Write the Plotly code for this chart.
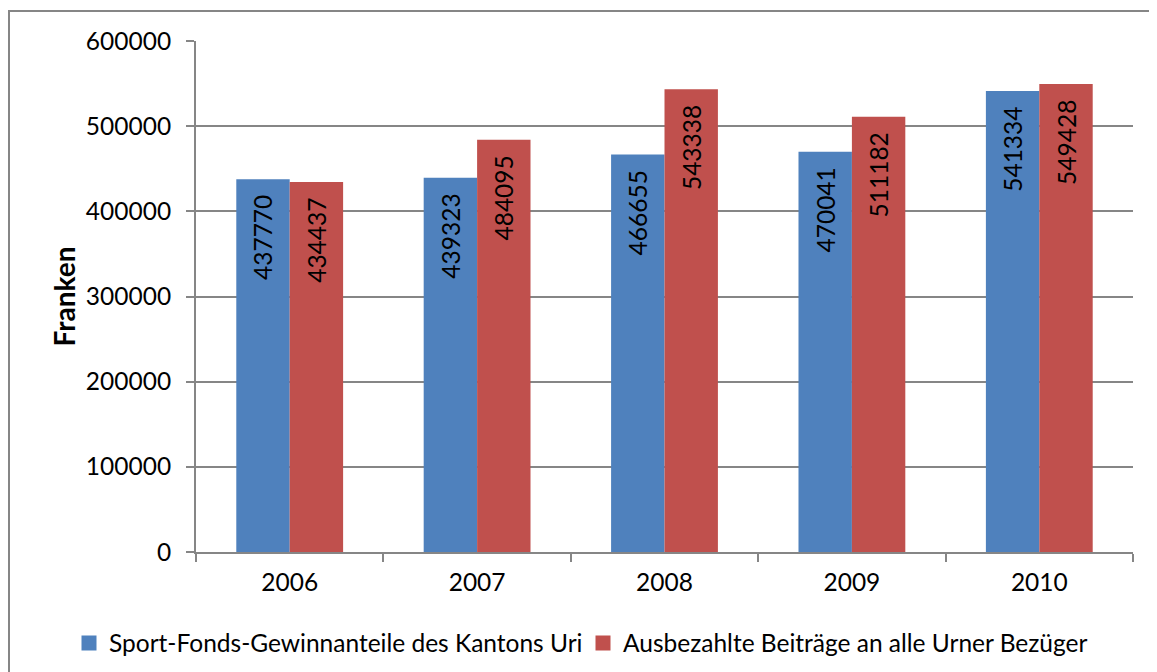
import plotly.graph_objects as go

years = ["2006", "2007", "2008", "2009", "2010"]
sport_fonds = [437770, 439323, 466655, 470041, 541334]
ausbezahlt = [434437, 484095, 543338, 511182, 549428]
y_ticks = [0, 100000, 200000, 300000, 400000, 500000, 600000]
series_names = ["Sport-Fonds-Gewinnanteile des Kantons Uri",
                "Ausbezahlte Beiträge an alle Urner Bezüger"]
series_colors = ["#4F81BD", "#C0504D"]

FONT = "Lato"
FS = 24.5
L, R, T, B = 188, 32, 33, 128
PW = 1157 - L - R
PH = 672 - T - B

fig = go.Figure()
for name, vals, color in zip(series_names, [sport_fonds, ausbezahlt], series_colors):
    fig.add_trace(go.Bar(
        x=years, y=vals, name=name, showlegend=False, legendgroup=name,
        marker=dict(color=color, line=dict(width=0)),
        texttemplate="%{y:d}\u00a0\u00a0", textposition="inside", textangle=-90,
        insidetextanchor="end", textfont=dict(color="black", size=FS, family=FONT),
    ))
for name, color in zip(series_names, series_colors):
    fig.add_trace(go.Scatter(
        x=[None], y=[None], mode="markers", name=name, legendgroup=name,
        marker=dict(symbol="square", size=15, color=color), showlegend=True,
    ))

fig.update_layout(
    width=1157, height=672,
    margin=dict(l=L, r=R, t=T, b=B, autoexpand=False),
    paper_bgcolor="white", plot_bgcolor="white",
    barmode="group", bargap=0.43, bargroupgap=0,
    font=dict(family=FONT, size=FS, color="black"),
    showlegend=True,
    legend=dict(orientation="h", x=(61 - L) / PW, xanchor="left",
                y=(PH + T - 635) / PH, yanchor="middle",
                font=dict(size=FS, family=FONT), traceorder="normal",
                entrywidth=469, entrywidthmode="pixels"),
    uniformtext=dict(minsize=FS, mode="show"),
)
fig.update_xaxes(
    type="category", showline=True, linecolor="#868686", linewidth=2,
    ticks="outside", tickson="boundaries", ticklen=8, tickcolor="#868686", tickwidth=2,
    showgrid=False, tickfont=dict(size=FS, family=FONT), ticklabelstandoff=8,
)
fig.update_yaxes(
    range=[0, 600000], tickvals=y_ticks, ticktext=[str(v) for v in y_ticks],
    showline=True, linecolor="#868686", linewidth=2,
    ticks="outside", ticklen=8, tickcolor="#868686", tickwidth=2,
    showgrid=True, gridcolor="#868686", gridwidth=1.5,
    zeroline=False, tickfont=dict(size=FS, family=FONT), ticklabelstandoff=10,
)
fig.add_annotation(text="<b>Franken</b>", xref="paper", yref="paper",
                   x=(55 - L) / PW, y=0.5, textangle=-90, showarrow=False,
                   xanchor="center", yanchor="middle",
                   font=dict(size=28, family=FONT, color="black"))
fig.add_shape(type="rect", xref="paper", yref="paper",
              x0=(1 - L) / PW, x1=(1170 - L) / PW,
              y0=(PH + T - 690) / PH, y1=(PH + T - 3) / PH,
              line=dict(color="#868686", width=2), fillcolor="rgba(0,0,0,0)", layer="below")

fig.write_html("out.html")
